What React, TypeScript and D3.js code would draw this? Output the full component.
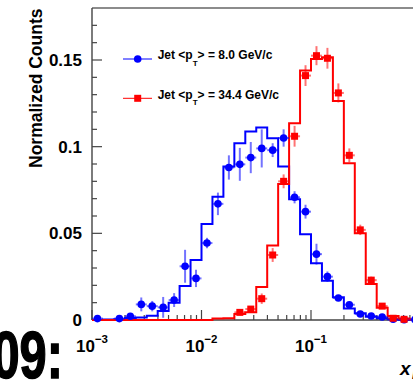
import React from "react";
import * as d3 from "d3";

// bin edges (log10 of x)
const EDGE_EXP = [-3.0, -2.9, -2.8, -2.7, -2.6, -2.5, -2.4, -2.3, -2.2, -2.1, -2.0, -1.9, -1.8, -1.7, -1.6, -1.5, -1.4, -1.3, -1.2, -1.1, -1.0, -0.9, -0.8, -0.7, -0.6, -0.5, -0.4, -0.3, -0.2, -0.1, 0.0];

// MC-like histograms (step lines)
const blueHist = [0, 0.0003, 0.0005, 0.0012, 0.0015, 0.0025, 0.0052, 0.01, 0.0196, 0.0346, 0.0554, 0.0711, 0.0885, 0.102, 0.1087, 0.111, 0.1049, 0.0885, 0.0697, 0.0494, 0.0327, 0.0227, 0.0131, 0.0067, 0.0039, 0.0019, 0.001, 0.0004, 0.0002, 0.0001];
const redHist = [0, 0, 0, 0, 0, 0, 0, 0, 0, 0, 0, 0.0008, 0.001, 0.0035, 0.0045, 0.019, 0.043, 0.0785, 0.1135, 0.144, 0.1506, 0.1516, 0.1264, 0.0904, 0.05, 0.0208, 0.0071, 0.0023, 0.0008, 0.0003];

// data points with errors
const bluePts: (number | null)[] = [0.0008, null, 0.0008, 0.0022, 0.009, 0.008, 0.0073, 0.0115, 0.031, 0.024, 0.0444, 0.067, 0.088, 0.0898, 0.0937, 0.099, 0.098, 0.105, 0.0708, 0.0625, 0.038, 0.025, 0.0127, 0.0088, 0.0035, 0.0023, 0.0017, 0.0004, 0.0002, 0.0003];
const blueErr = [0.0006, 0, 0.001, 0.0015, 0.004, 0.003, 0.006, 0.004, 0.0095, 0.005, 0.003, 0.0065, 0.007, 0.0095, 0.009, 0.011, 0.004, 0.005, 0.0035, 0.004, 0.006, 0.003, 0.0015, 0.0015, 0.001, 0.001, 0.0008, 0.0005, 0.0004, 0.0004];
const redPts: (number | null)[] = [null, null, null, null, null, null, null, null, null, null, null, null, null, 0.0044, 0.0063, 0.0123, 0.0375, 0.08, 0.106, 0.141, 0.1525, 0.151, 0.131, 0.095, 0.052, 0.023, 0.008, 0.001, 0.0004, null];
const redErr = [0, 0, 0, 0, 0, 0, 0, 0, 0, 0, 0, 0, 0, 0.001, 0.0015, 0.003, 0.004, 0.004, 0.006, 0.006, 0.0055, 0.006, 0.0055, 0.004, 0.003, 0.002, 0.0015, 0.0008, 0.0005, 0];

const yMajor = [0, 0.05, 0.1, 0.15];
const yMajorLabels = ["0", "0.05", "0.1", "0.15"];
const yMinor = [0.01, 0.02, 0.03, 0.04, 0.06, 0.07, 0.08, 0.09, 0.11, 0.12, 0.13, 0.14, 0.16, 0.17];
const xMajor = [1e-3, 1e-2, 1e-1];
const xMajorExp = ["\u22123", "\u22122", "\u22121"];
const xMinorMult = [2, 3, 4, 5, 6, 7, 8, 9];

const legendLabels = ["8.0", "34.4"];

const BLUE = "#0000ff";
const RED = "#ff0000";
const AXIS = "#444";
const FONT = "'Liberation Sans', Arial, Helvetica, sans-serif";

export default function App() {
  const x = d3.scaleLog().domain([1e-3, 1]).range([92, 420.5]);
  const y = d3.scaleLinear().domain([0, 0.18]).range([320, 8]);
  const edges = EDGE_EXP.map((e) => Math.pow(10, e));
  const center = (i: number) => Math.pow(10, (EDGE_EXP[i] + EDGE_EXP[i + 1]) / 2);

  const stepLine = d3
    .line<[number, number]>()
    .x((d) => x(d[0]))
    .y((d) => y(d[1]))
    .curve(d3.curveStepAfter);
  const histPts = (h: number[]): [number, number][] => {
    const p: [number, number][] = h.map((v, i) => [edges[i], v]);
    p.push([edges[h.length], h[h.length - 1]]);
    return p;
  };

  const xMinor: number[] = [];
  xMajor.forEach((m) => xMinorMult.forEach((k) => xMinor.push(m * k)));

  const renderPoints = (pts: (number | null)[], errs: number[], color: string, square: boolean) =>
    pts.map((v, i) => {
      if (v === null) return null;
      const cx = x(center(i));
      const cy = y(v);
      return (
        <g key={i}>
          <line x1={x(edges[i])} x2={x(edges[i + 1])} y1={cy} y2={cy} stroke={color} strokeOpacity={0.55} strokeWidth={2} />
          <line x1={cx} x2={cx} y1={y(Math.max(0, v - errs[i]))} y2={y(v + errs[i])} stroke={color} strokeOpacity={0.55} strokeWidth={2} />
          {square ? (
            <rect x={cx - 3.5} y={cy - 3.5} width={7} height={7} fill={color} />
          ) : (
            <circle cx={cx} cy={cy} r={3.8} fill={color} />
          )}
        </g>
      );
    });

  return (
    <svg width={413} height={381} style={{ position: "absolute", left: 0, top: 0, background: "#fff" }} fontFamily={FONT}>
      <rect x={0} y={0} width={413} height={381} fill="#fff" />
      {/* frame */}
      <line x1={92} x2={420.5} y1={8} y2={8} stroke="#666" strokeWidth={1.6} />
      <line x1={92} x2={92} y1={8} y2={320} stroke={AXIS} strokeWidth={1.4} />
      <line x1={92} x2={420.5} y1={320} y2={320} stroke={AXIS} strokeWidth={1.4} />

      {/* y ticks */}
      {yMajor.map((v, i) => (
        <g key={"ym" + i}>
          <line x1={92} x2={102} y1={y(v)} y2={y(v)} stroke={AXIS} strokeWidth={1.2} />
          <text x={82} y={y(v) + 6} textAnchor="end" fontSize={17} fontWeight="bold">{yMajorLabels[i]}</text>
        </g>
      ))}
      {yMinor.map((v, i) => (
        <line key={"yn" + i} x1={92} x2={97} y1={y(v)} y2={y(v)} stroke={AXIS} strokeWidth={1.2} />
      ))}
      {/* x ticks */}
      {xMajor.map((v, i) => (
        <g key={"xm" + i}>
          <line x1={x(v)} x2={x(v)} y1={320} y2={310} stroke={AXIS} strokeWidth={1.2} />
          <text x={x(v)} y={352} textAnchor="middle" fontSize={17} fontWeight="bold">
            <tspan>10</tspan>
            <tspan dy={-9.5} fontSize={11.5}>{xMajorExp[i]}</tspan>
          </text>
        </g>
      ))}
      {xMinor.map((v, i) => (
        <line key={"xn" + i} x1={x(v)} x2={x(v)} y1={320} y2={315} stroke={AXIS} strokeWidth={1.2} />
      ))}

      {/* histograms */}
      <path d={stepLine(histPts(blueHist)) || ""} fill="none" stroke={BLUE} strokeWidth={2} />
      <path d={stepLine(histPts(redHist)) || ""} fill="none" stroke={RED} strokeWidth={2} />

      {/* points */}
      {renderPoints(bluePts, blueErr, BLUE, false)}
      {renderPoints(redPts, redErr, RED, true)}

      {/* legend */}
      <line x1={123} x2={152} y1={59} y2={59} stroke={BLUE} strokeWidth={1} />
      <circle cx={137.7} cy={59} r={3.8} fill={BLUE} />
      <line x1={123} x2={152} y1={98.3} y2={98.3} stroke={RED} strokeWidth={1} />
      <rect x={134.2} y={94.8} width={7} height={7} fill={RED} />
      {legendLabels.map((l, i) => (
        <text key={"lg" + i} x={157.7} y={59.3 + i * 39.4} fontSize={12} fontWeight="bold">
          <tspan>Jet &lt;p</tspan>
          <tspan dy={6.5} fontSize={8}>T</tspan>
          <tspan dy={-6.5}>&gt; = {l} GeV/c</tspan>
        </text>
      ))}

      {/* axis titles */}
      <text transform="translate(41.7,8.5) rotate(-90)" textAnchor="end" fontSize={17.5} fontWeight="bold">
        Normalized Counts
      </text>
      <text x={400} y={375} fontSize={19} fontWeight="bold" fontStyle="italic">
        x<tspan dx={1.5} dy={4} fontSize={11}>E</tspan>
      </text>

      {/* big caption fragment */}
      <text transform="translate(63,378) scale(0.74,1)" textAnchor="end" fontSize={66} fontWeight="bold" stroke="#000" strokeWidth={1.5}>
        09:
      </text>
    </svg>
  );
}
